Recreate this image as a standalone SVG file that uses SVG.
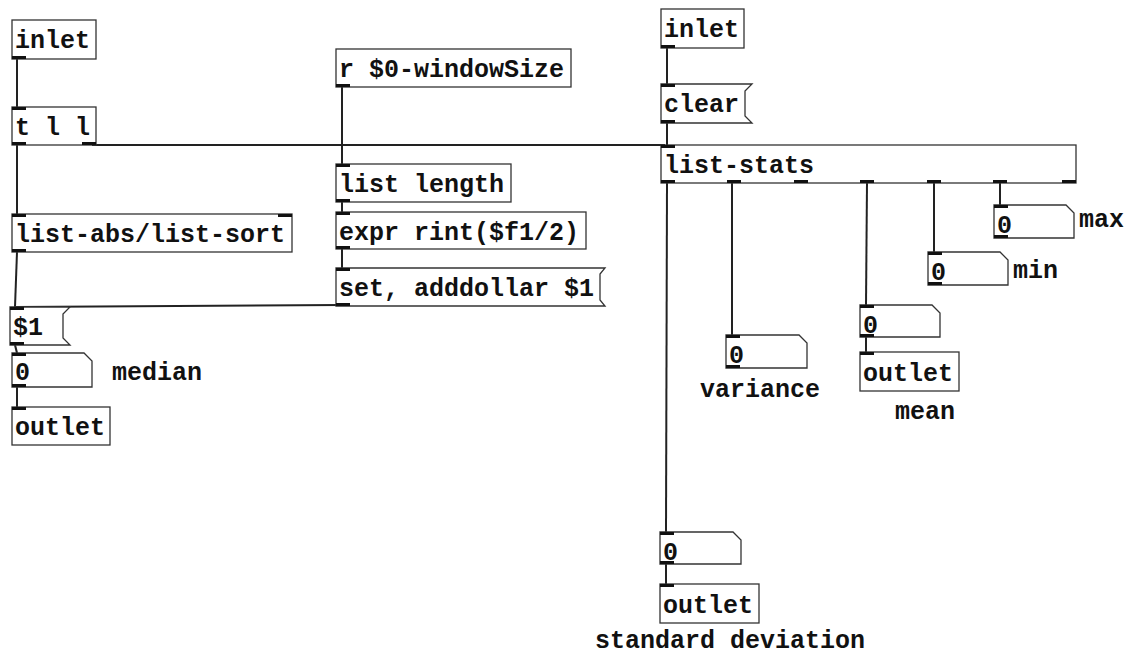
<svg xmlns="http://www.w3.org/2000/svg" width="1133" height="657" viewBox="0 0 1133 657">
<style>
.box{fill:#fff;stroke:#333;stroke-width:1.3}
.t{font-family:"Liberation Mono","Courier New",monospace;font-weight:bold;font-size:25px;fill:#111}
.n{fill:#111}
.c{stroke:#222;stroke-width:2;fill:none}
</style>
<rect width="1133" height="657" fill="#fff"/>
<g id="connectors">
<line class="c" x1="17" y1="59" x2="17" y2="107"/>
<line class="c" x1="17" y1="145" x2="17" y2="214"/>
<line class="c" x1="92" y1="145" x2="665" y2="145"/>
<line class="c" x1="17" y1="252" x2="15" y2="307"/>
<line class="c" x1="342" y1="87" x2="342" y2="164"/>
<line class="c" x1="342" y1="202" x2="342" y2="212"/>
<line class="c" x1="342" y1="249" x2="342" y2="268"/>
<line class="c" x1="342" y1="305" x2="16" y2="307"/>
<line class="c" x1="15" y1="345" x2="17" y2="353"/>
<line class="c" x1="17" y1="387" x2="17" y2="407"/>
<line class="c" x1="667" y1="48" x2="667" y2="84"/>
<line class="c" x1="667" y1="123" x2="667" y2="145"/>
<line class="c" x1="667" y1="183" x2="666" y2="532"/>
<line class="c" x1="732" y1="183" x2="732" y2="335"/>
<line class="c" x1="867" y1="183" x2="866" y2="305"/>
<line class="c" x1="934" y1="183" x2="934" y2="252"/>
<line class="c" x1="1000" y1="183" x2="1000" y2="205"/>
<line class="c" x1="866" y1="337" x2="866" y2="352"/>
<line class="c" x1="666" y1="564" x2="666" y2="584"/>
</g>
<g id="inlet1">
<rect class="box" x="12" y="20" width="84" height="39"/>
<rect class="n" x="12" y="56" width="14" height="3"/>
<text class="t" x="15" y="48">inlet</text>
</g>
<g id="trigger">
<rect class="box" x="12" y="107" width="84" height="38"/>
<rect class="n" x="12" y="107" width="14" height="3"/>
<rect class="n" x="12" y="142" width="14" height="3"/>
<rect class="n" x="82" y="142" width="14" height="3"/>
<text class="t" x="15" y="135">t l l</text>
</g>
<g id="listabs">
<rect class="box" x="12" y="214" width="280" height="38"/>
<rect class="n" x="12" y="214" width="14" height="3"/>
<rect class="n" x="278" y="214" width="14" height="3"/>
<rect class="n" x="12" y="249" width="14" height="3"/>
<text class="t" x="15" y="242">list-abs/list-sort</text>
</g>
<g id="msg1">
<polygon class="box" points="10,307 70,307 63,314 63,338 70,345 10,345"/>
<rect class="n" x="10" y="307" width="14" height="3"/>
<rect class="n" x="10" y="342" width="14" height="3"/>
<text class="t" x="13" y="335">$1</text>
</g>
<g id="nummedian">
<polygon class="box" points="12,353 84,353 92,361 92,387 12,387"/>
<rect class="n" x="12" y="353" width="14" height="3"/>
<rect class="n" x="12" y="384" width="14" height="3"/>
<text class="t" x="15" y="380">0</text>
<text class="t" x="112" y="380">median</text>
</g>
<g id="outlet1">
<rect class="box" x="12" y="407" width="98" height="38"/>
<rect class="n" x="12" y="407" width="14" height="3"/>
<text class="t" x="15" y="435">outlet</text>
</g>
<g id="receive">
<rect class="box" x="336" y="49" width="235" height="38"/>
<rect class="n" x="336" y="84" width="14" height="3"/>
<text class="t" x="339" y="77">r $0-windowSize</text>
</g>
<g id="listlength">
<rect class="box" x="336" y="164" width="175" height="38"/>
<rect class="n" x="336" y="164" width="14" height="3"/>
<rect class="n" x="336" y="199" width="14" height="3"/>
<text class="t" x="339" y="192">list length</text>
</g>
<g id="expr">
<rect class="box" x="336" y="212" width="250" height="37"/>
<rect class="n" x="336" y="212" width="14" height="3"/>
<rect class="n" x="336" y="246" width="14" height="3"/>
<text class="t" x="339" y="240">expr rint($f1/2)</text>
</g>
<g id="setmsg">
<polygon class="box" points="336,268 605,268 600,274 600,300 605,306 336,306"/>
<rect class="n" x="336" y="268" width="14" height="3"/>
<rect class="n" x="336" y="303" width="14" height="3"/>
<text class="t" x="339" y="296">set, adddollar $1</text>
</g>
<g id="inlet2">
<rect class="box" x="661" y="9" width="83" height="39"/>
<rect class="n" x="661" y="45" width="14" height="3"/>
<text class="t" x="664" y="37">inlet</text>
</g>
<g id="clear">
<polygon class="box" points="661,84 752,84 745,91 745,116 752,123 661,123"/>
<rect class="n" x="661" y="84" width="14" height="3"/>
<rect class="n" x="661" y="120" width="14" height="3"/>
<text class="t" x="664" y="112">clear</text>
</g>
<g id="liststats">
<rect class="box" x="661" y="145" width="415" height="38"/>
<rect class="n" x="661" y="145" width="14" height="3"/>
<rect class="n" x="661" y="180" width="14" height="3"/>
<rect class="n" x="727" y="180" width="14" height="3"/>
<rect class="n" x="794" y="180" width="14" height="3"/>
<rect class="n" x="860" y="180" width="14" height="3"/>
<rect class="n" x="927" y="180" width="14" height="3"/>
<rect class="n" x="993" y="180" width="14" height="3"/>
<rect class="n" x="1062" y="180" width="14" height="3"/>
<text class="t" x="664" y="173">list-stats</text>
</g>
<g id="nummax">
<polygon class="box" points="994,205 1066,205 1074,213 1074,238 994,238"/>
<rect class="n" x="994" y="205" width="14" height="3"/>
<rect class="n" x="994" y="235" width="14" height="3"/>
<text class="t" x="997" y="233">0</text>
<text class="t" x="1079" y="227">max</text>
</g>
<g id="nummin">
<polygon class="box" points="928,252 1000,252 1008,260 1008,285 928,285"/>
<rect class="n" x="928" y="252" width="14" height="3"/>
<rect class="n" x="928" y="282" width="14" height="3"/>
<text class="t" x="931" y="280">0</text>
<text class="t" x="1013" y="278">min</text>
</g>
<g id="nummean">
<polygon class="box" points="860,305 932,305 940,313 940,337 860,337"/>
<rect class="n" x="860" y="305" width="14" height="3"/>
<rect class="n" x="860" y="334" width="14" height="3"/>
<text class="t" x="863" y="333">0</text>
</g>
<g id="outletmean">
<rect class="box" x="860" y="352" width="99" height="39"/>
<rect class="n" x="860" y="352" width="14" height="3"/>
<text class="t" x="863" y="381">outlet</text>
<text class="t" x="895" y="419">mean</text>
</g>
<g id="numvariance">
<polygon class="box" points="726,335 799,335 807,343 807,368 726,368"/>
<rect class="n" x="726" y="335" width="14" height="3"/>
<rect class="n" x="726" y="365" width="14" height="3"/>
<text class="t" x="729" y="363">0</text>
<text class="t" x="700" y="397">variance</text>
</g>
<g id="numstd">
<polygon class="box" points="660,532 733,532 741,540 741,564 660,564"/>
<rect class="n" x="660" y="532" width="14" height="3"/>
<rect class="n" x="660" y="561" width="14" height="3"/>
<text class="t" x="663" y="560">0</text>
</g>
<g id="outletstd">
<rect class="box" x="660" y="584" width="99" height="39"/>
<rect class="n" x="660" y="584" width="14" height="3"/>
<text class="t" x="663" y="613">outlet</text>
<text class="t" x="595" y="648">standard deviation</text>
</g>
</svg>
